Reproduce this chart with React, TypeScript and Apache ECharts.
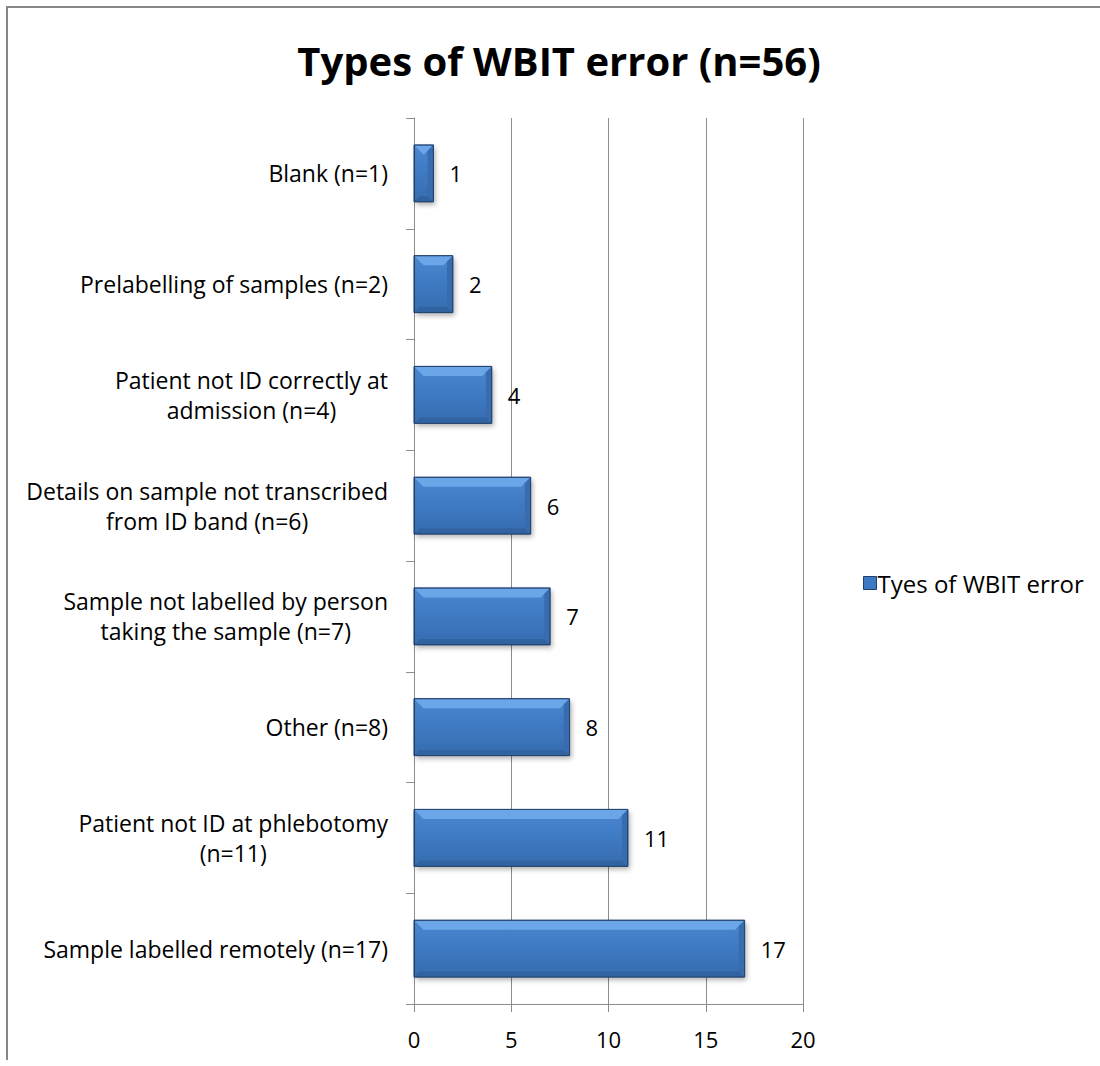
import React, { useEffect, useRef } from "react";
import * as echarts from "echarts";

const title = "Types of WBIT error (n=56)";
const seriesName = "Tyes of WBIT error";
const categories = [
  "Blank (n=1)",
  "Prelabelling of samples (n=2)",
  "Patient not ID correctly at\nadmission (n=4)",
  "Details on sample not transcribed\nfrom ID band (n=6)",
  "Sample not labelled by person\ntaking the sample (n=7)",
  "Other (n=8)",
  "Patient not ID at phlebotomy\n(n=11)",
  "Sample labelled remotely (n=17)",
];
const values = [1, 2, 4, 6, 7, 8, 11, 17];
const xTicks = [0, 5, 10, 15, 20];

const FONT = "Open Sans";

export default function App() {
  const ref = useRef<HTMLDivElement>(null);
  useEffect(() => {
    if (!ref.current) return;
    const chart = echarts.init(ref.current, null, { renderer: "svg" });
    const barFill = new echarts.graphic.LinearGradient(0, 0, 0, 1, [
      { offset: 0, color: "#4a87d0" },
      { offset: 0.5, color: "#3e79c2" },
      { offset: 1, color: "#366cb0" },
    ]);
    const bevelSize = 9;
    chart.setOption({
      animation: false,
      backgroundColor: "#ffffff",
      title: {
        text: title,
        left: 554,
        textAlign: "center",
        top: 35,
        textStyle: { fontFamily: FONT, fontWeight: "bold", fontSize: 40, color: "#000" },
      },
      legend: {
        left: 858,
        top: 566,
        orient: "vertical",
        itemWidth: 13,
        itemHeight: 13,
        icon: "rect",
        itemGap: 4,
        textStyle: { fontFamily: FONT, fontSize: 24, color: "#000", padding: [0, 0, 0, -4] },
        data: [{ name: seriesName, itemStyle: { color: "#3d78c2", borderColor: "#1f3f6e", borderWidth: 1 } }],
      },
      graphic: [
        {
          type: "line",
          shape: { x1: 6, y1: 7, x2: 1100, y2: 7 },
          style: { stroke: "#878787", lineWidth: 2 },
          silent: true,
          z: 100,
        },
        {
          type: "line",
          shape: { x1: 7, y1: 6, x2: 7, y2: 1060 },
          style: { stroke: "#878787", lineWidth: 2 },
          silent: true,
          z: 100,
        },
      ],
      grid: { left: 414, right: 297, top: 118, bottom: 62, containLabel: false },
      xAxis: {
        type: "value",
        min: xTicks[0],
        max: xTicks[xTicks.length - 1],
        interval: 5,
        axisLine: { show: true, lineStyle: { color: "#8c8c8c", width: 1 } },
        axisTick: { show: true, length: 8, lineStyle: { color: "#8c8c8c" } },
        splitLine: { show: true, lineStyle: { color: "#8c8c8c", width: 1 } },
        axisLabel: { fontFamily: FONT, fontSize: 22, color: "#000", margin: 24 },
      },
      yAxis: {
        type: "category",
        inverse: true,
        data: categories,
        axisLine: { show: true, lineStyle: { color: "#8c8c8c", width: 1 } },
        axisTick: { show: true, length: 8, lineStyle: { color: "#8c8c8c" } },
        axisLabel: {
          fontFamily: FONT,
          fontSize: 23,
          color: "#000",
          margin: 26,
          lineHeight: 30,
          formatter: (v: string) =>
            v
              .split("\n")
              .map((l) => `{c|${l}}`)
              .join("\n"),
          rich: { c: { align: "center", fontFamily: FONT, fontSize: 23, lineHeight: 30, color: "#000" } },
        },
      },
      series: [
        {
          name: seriesName,
          type: "bar",
          data: values,
          barWidth: 57,
          itemStyle: {
            color: barFill,
            borderColor: "#1f3f6e",
            borderWidth: 1,
            shadowBlur: 5,
            shadowOffsetX: 2,
            shadowOffsetY: 3,
            shadowColor: "rgba(0,0,0,0.3)",
          },
          label: {
            show: true,
            position: "right",
            distance: 16,
            fontFamily: FONT,
            fontSize: 22,
            color: "#000",
          },
          z: 2,
        },
        {
          name: "bevel",
          type: "custom",
          silent: true,
          z: 3,
          data: values.map((v, i) => [v, i]),
          encode: { x: 0, y: 1 },
          renderItem: (params: any, api: any) => {
            const v = api.value(0);
            const idx = api.value(1);
            const p0 = api.coord([0, idx]);
            const p1 = api.coord([v, idx]);
            const h = 57;
            const x0 = p0[0] + 0.5;
            const x1 = p1[0] - 0.5;
            const top = p0[1] - h / 2 + 0.5;
            const bot = p0[1] + h / 2 - 0.5;
            const b = Math.min(bevelSize, (x1 - x0) / 2);
            return {
              type: "group",
              children: [
                {
                  type: "polygon",
                  shape: { points: [[x0, top], [x1, top], [x1 - b, top + b], [x0 + b, top + b]] },
                  style: { fill: "#6aa6e8" },
                },
                {
                  type: "polygon",
                  shape: { points: [[x0, bot], [x1, bot], [x1 - b * 0.6, bot - b * 0.6], [x0 + b * 0.6, bot - b * 0.6]] },
                  style: { fill: "#30639f" },
                },
                {
                  type: "polygon",
                  shape: { points: [[x1, top], [x1 - b * 0.6, top + b * 0.6], [x1 - b * 0.6, bot - b * 0.6], [x1, bot]] },
                  style: { fill: "#386cae" },
                },
                {
                  type: "rect",
                  shape: { x: x0 - 0.5, y: top - 0.5, width: x1 - x0 + 1, height: bot - top + 1 },
                  style: { fill: "none", stroke: "#1f3f6e", lineWidth: 1 },
                },
              ],
            };
          },
        },
      ],
    });
    return () => chart.dispose();
  }, []);
  return (
    <div
      ref={ref}
      style={{ position: "absolute", left: 0, top: 0, width: 1100, height: 1066 }}
    />
  );
}
